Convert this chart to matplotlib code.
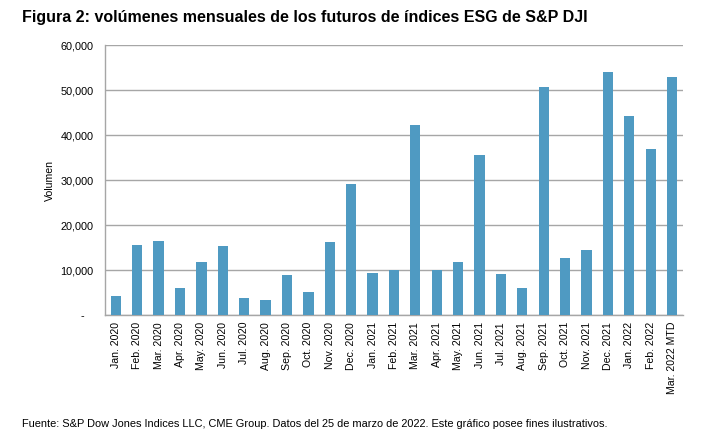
import matplotlib
matplotlib.use('Agg')
import matplotlib.pyplot as plt
from matplotlib.ticker import FuncFormatter

plt.rcParams['font.family'] = ['Liberation Sans', 'DejaVu Sans']

months = ['Jan. 2020', 'Feb. 2020', 'Mar. 2020', 'Apr. 2020', 'May. 2020', 'Jun. 2020',
          'Jul. 2020', 'Aug. 2020', 'Sep. 2020', 'Oct. 2020', 'Nov. 2020', 'Dec. 2020',
          'Jan. 2021', 'Feb. 2021', 'Mar. 2021', 'Apr. 2021', 'May. 2021', 'Jun. 2021',
          'Jul. 2021', 'Aug. 2021', 'Sep. 2021', 'Oct. 2021', 'Nov. 2021', 'Dec. 2021',
          'Jan. 2022', 'Feb. 2022', 'Mar. 2022 MTD']
volume = [4200, 15600, 16450, 6000, 11800, 15350,
          3800, 3350, 8900, 5100, 16200, 29100,
          9350, 10000, 42200, 10000, 11800, 35550,
          9100, 6000, 50650, 12650, 14450, 54000,
          44200, 36900, 52900]
yticks = [0, 10000, 20000, 30000, 40000, 50000, 60000]

fig = plt.figure(figsize=(7.15, 4.36), dpi=100)
ax = fig.add_axes([0.147, 0.2775, 0.808, 0.619])

x = range(len(months))
ax.bar(x, volume, width=0.48, color='#4F9AC2', zorder=3)

ax.set_xlim(-0.5, len(months) - 0.5)
ax.set_ylim(0, 60000)
ax.set_yticks(yticks)
# accounting-style zero: a dash set back from the axis
ax.yaxis.set_major_formatter(FuncFormatter(lambda v, p: '-   ' if v == 0 else f'{int(v):,}'))
ax.set_xticks(list(x))
ax.set_xticklabels(months, rotation=90, fontsize=7.6)
ax.tick_params(axis='y', labelsize=7.8, length=0, pad=8.5)
ax.tick_params(axis='x', length=0, pad=5)

ax.grid(axis='y', color='#A6A6A6', linewidth=1, zorder=0)
for side in ['top', 'right']:
    ax.spines[side].set_visible(False)
for side in ['left', 'bottom']:
    ax.spines[side].set_color('#A6A6A6')
    ax.spines[side].set_linewidth(1)

ax.set_ylabel('Volumen', fontsize=7.6, labelpad=4)

fig.text(0.031, 0.96, 'Figura 2: volúmenes mensuales de los futuros de índices ESG de S&P DJI',
         fontsize=11.5, fontweight='bold', va='center')
fig.text(0.031, 0.028, 'Fuente: S&P Dow Jones Indices LLC, CME Group. Datos del 25 de marzo de 2022. '
         'Este gráfico posee fines ilustrativos.', fontsize=7.9, va='center')

fig.savefig('out.png', dpi=100)
